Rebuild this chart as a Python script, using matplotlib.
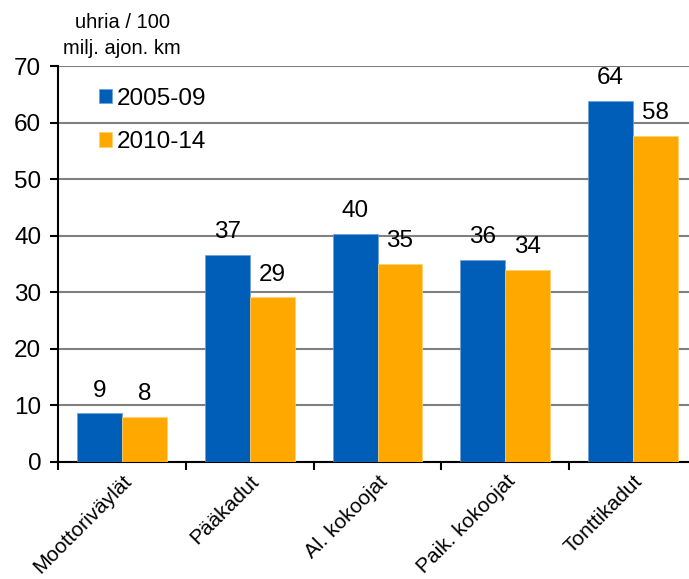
import numpy as np
import matplotlib.pyplot as plt

plt.rcParams['font.family'] = ['Liberation Sans', 'DejaVu Sans']

# Tiedot
luokat = ['Moottoriväylät', 'Pääkadut', 'Al. kokoojat', 'Paik. kokoojat', 'Tonttikadut']
arvot_2005_09 = [8.6, 36.6, 40.3, 35.7, 63.9]
arvot_2010_14 = [7.9, 29.1, 35.0, 33.9, 57.6]
nimet_2005_09 = ['9', '37', '40', '36', '64']
nimet_2010_14 = ['8', '29', '35', '34', '58']
sarjat = ['2005-09', '2010-14']

SININEN = '#005EB8'
ORANSSI = '#FFA800'

fig = plt.figure(figsize=(6.89, 5.79), dpi=100)
ax = fig.add_axes([0.0842, 0.2021, 0.9274, 0.6839])

x = np.arange(len(luokat))
w = 0.352
b1 = ax.bar(x - w / 2, arvot_2005_09, w, color=SININEN, edgecolor='#6fa0d8', linewidth=0.5, label=sarjat[0], zorder=3)
b2 = ax.bar(x + w / 2, arvot_2010_14, w, color=ORANSSI, edgecolor='#ffd070', linewidth=0.5, label=sarjat[1], zorder=3)

ax.bar_label(b1, labels=nimet_2005_09, padding=8.5, fontsize=17.5)
ax.bar_label(b2, labels=nimet_2010_14, padding=8.5, fontsize=17.5)

ax.set_ylim(0, 70)
ax.set_xlim(-0.5, len(luokat) - 0.5)
ax.set_yticks(np.arange(0, 71, 10))
ax.yaxis.grid(True, color='#808080', linewidth=1.5, zorder=0)
ax.set_axisbelow(True)

ax.set_xticks(x)
ax.set_xticklabels(luokat, rotation=45, ha='right', rotation_mode='anchor', fontsize=15)
ax.set_xticks(np.arange(-0.5, len(luokat), 1), minor=True)
ax.tick_params(axis='x', which='major', length=0, pad=7)
ax.tick_params(axis='x', which='minor', length=6, width=1.5, direction='out')
ax.tick_params(axis='y', length=6, width=1.5, labelsize=17.5, pad=6)

for s in ['top', 'right']:
    ax.spines[s].set_visible(False)
for s in ['left', 'bottom']:
    ax.spines[s].set_linewidth(1.5)

fig.text(122 / 689, 1 - 23 / 579, 'uhria / 100', ha='center', va='center', fontsize=14.5)
fig.text(122 / 689, 1 - 48 / 579, 'milj. ajon. km', ha='center', va='center', fontsize=14.5)

ax.legend(loc='upper left', bbox_to_anchor=(0.064, 0.945), frameon=False, fontsize=17.5,
          handlelength=0.53, handleheight=0.53, handletextpad=0.2, labelspacing=0.88,
          borderpad=0, borderaxespad=0)

fig.savefig('out.png', dpi=100)
